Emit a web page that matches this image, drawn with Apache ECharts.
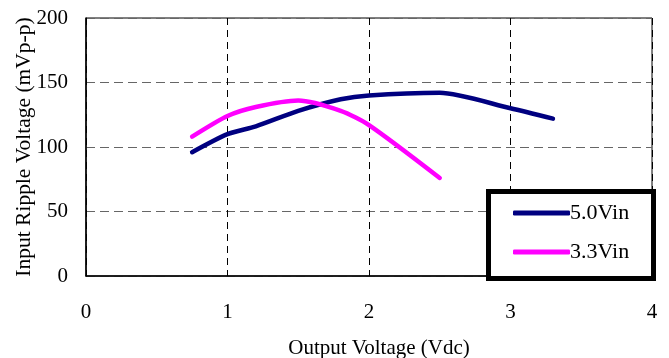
<!DOCTYPE html>
<html>
<head>
<meta charset="utf-8">
<script src="https://cdn.jsdelivr.net/npm/echarts@6/dist/echarts.min.js"></script>
<style>
  html, body { margin: 0; padding: 0; background: #fff; }
  #chart { width: 669px; height: 358px; }
</style>
</head>
<body>
<div id="chart"></div>
<script>
/* ---------- 数据 ---------- */
const seriesNames = ['5.0Vin', '3.3Vin']
const vout50 = [0.75, 1.0, 1.2, 1.5, 1.8, 2.0, 2.5, 3.0, 3.3]
const ripple50 = [96, 110, 116, 128, 137, 140, 142, 130, 122]
const vout33 = [0.75, 1.0, 1.2, 1.5, 1.8, 2.0, 2.5]
const ripple33 = [108, 124, 131, 136, 128, 117, 76]

/* ---------- 样式 ---------- */
const colors = ['#000080', '#ff00ff']
const font = '"Liberation Serif", "Times New Roman", serif'

const pairs = (xs, ys) => xs.map((x, i) => [x, ys[i]])

const chart = echarts.init(document.getElementById('chart'))

chart.setOption({
  animation: false,
  textStyle: { fontFamily: font, color: '#000' },
  grid: {
    left: 86, right: 17, top: 18, bottom: 82,
    outerBoundsMode: 'none',
    show: true, borderColor: '#000', borderWidth: 1
  },
  xAxis: {
    type: 'value',
    min: 0, max: 4, interval: 1,
    name: 'Output Voltage (Vdc)',
    nameLocation: 'middle',
    nameGap: 62,
    nameMoveOverlap: false,
    nameTextStyle: { fontFamily: font, fontSize: 21, color: '#000', padding: [0, 0, 0, 20] },
    axisLine: { show: true, lineStyle: { color: '#000', width: 1.5 } },
    axisTick: { show: false },
    axisLabel: { margin: 26, fontFamily: font, fontSize: 21, color: '#000' },
    splitLine: { show: true, lineStyle: { color: '#000', type: [7, 5], width: 1 } }
  },
  yAxis: {
    type: 'value',
    min: 0, max: 200, interval: 50,
    name: 'Input Ripple Voltage (mVp-p)',
    nameLocation: 'middle',
    nameGap: 51,
    nameMoveOverlap: false,
    nameTextStyle: { fontFamily: font, fontSize: 21.5, color: '#000' },
    axisLine: { show: true, lineStyle: { color: '#000', width: 1.5 } },
    axisTick: { show: false },
    axisLabel: { margin: 18, fontFamily: font, fontSize: 21, color: '#000', padding: [4, 0, 0, 0] },
    splitLine: { show: true, lineStyle: { color: '#666', type: [9, 5], width: 1 } }
  },
  legend: {
    orient: 'vertical',
    left: 508, top: 197,
    itemWidth: 57, itemHeight: 5,
    itemGap: 17,
    icon: 'roundRect',
    z: 20,
    textStyle: { fontFamily: font, fontSize: 22, lineHeight: 22, color: '#000', padding: [0, 0, 0, -5] },
    data: seriesNames
  },
  graphic: [
    {
      type: 'rect',
      z: 10,
      shape: { x: 488.5, y: 191.5, width: 165, height: 87 },
      style: { fill: '#fff', stroke: '#000', lineWidth: 5 }
    }
  ],
  series: [
    {
      name: seriesNames[0],
      type: 'line',
      data: pairs(vout50, ripple50),
      smooth: 0.25,
      showSymbol: false,
      color: colors[0],
      lineStyle: { width: 4.5, color: colors[0], cap: 'round' }
    },
    {
      name: seriesNames[1],
      type: 'line',
      data: pairs(vout33, ripple33),
      smooth: 0.25,
      showSymbol: false,
      color: colors[1],
      lineStyle: { width: 4.5, color: colors[1], cap: 'round' }
    }
  ]
})
</script>
</body>
</html>
